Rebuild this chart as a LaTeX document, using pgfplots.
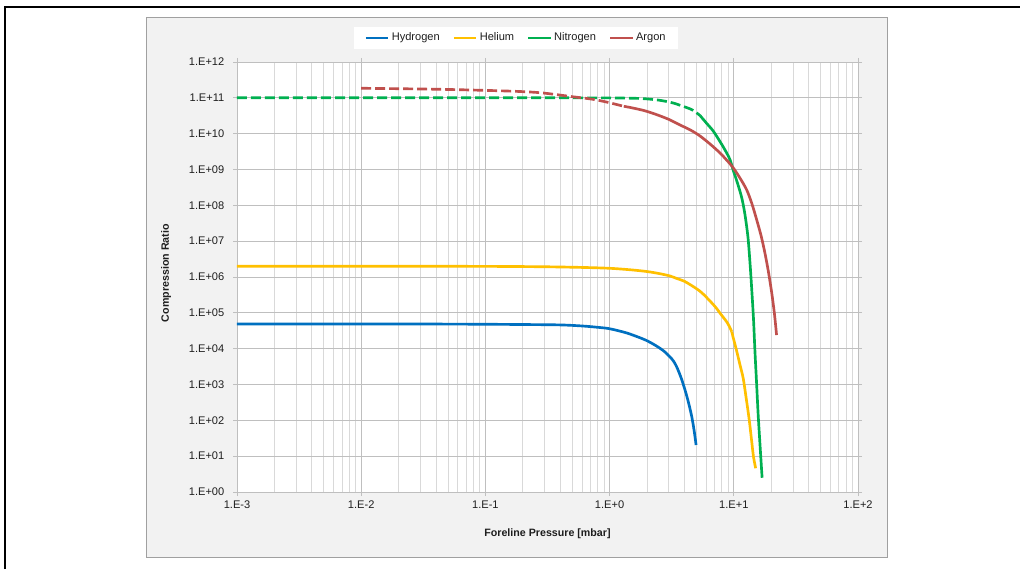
\documentclass[border=0pt]{standalone}
\usepackage{fontspec}
\setmainfont{Liberation Sans}
\usepackage{pgfplots}
\pgfplotsset{compat=1.18}
\definecolor{hyd}{RGB}{0,112,192}
\definecolor{hel}{RGB}{255,192,0}
\definecolor{nit}{RGB}{0,176,80}
\definecolor{arg}{RGB}{192,80,77}
\definecolor{bggray}{RGB}{242,242,242}
\definecolor{bdgray}{RGB}{160,160,160}
\definecolor{txt}{RGB}{30,30,30}
\begin{document}
\begin{tikzpicture}
\useasboundingbox (0,0) rectangle (765pt,426.75pt);
\fill[bggray] (109.5pt,9pt) rectangle (665.25pt,413.25pt);
\draw[bdgray, line width=0.75pt] (109.5pt,9pt) rectangle (665.25pt,413.25pt);
\draw[black, line width=1.6pt] (3.75pt,0pt) -- (3.75pt,421.5pt) -- (765pt,421.5pt);
\begin{axis}[
  at={(177.75pt,57.75pt)}, anchor=south west,
  width=465.75pt, height=322.5pt, scale only axis,
  xmode=log, ymode=log,
  xmin=1e-3, xmax=1e2, ymin=1, ymax=1e12,
  axis background/.style={fill=white},
  xtick={1e-3,1e-2,1e-1,1,10,100},
  xticklabels={1.E-3,1.E-2,1.E-1,1.E+0,1.E+1,1.E+2},
  minor xtick={2e-3,3e-3,4e-3,5e-3,6e-3,7e-3,8e-3,9e-3,
               2e-2,3e-2,4e-2,5e-2,6e-2,7e-2,8e-2,9e-2,
               0.2,0.3,0.4,0.5,0.6,0.7,0.8,0.9,
               2,3,4,5,6,7,8,9,20,30,40,50,60,70,80,90},
  ytick={1,1e1,1e2,1e3,1e4,1e5,1e6,1e7,1e8,1e9,1e10,1e11,1e12},
  yticklabels={1.E+00,1.E+01,1.E+02,1.E+03,1.E+04,1.E+05,1.E+06,1.E+07,1.E+08,1.E+09,1.E+10,1.E+11,1.E+12},
  minor y tick num=0,
  xmajorgrids, xminorgrids, ymajorgrids, yminorgrids=false,
  major grid style={color=black!25, line width=0.6pt},
  minor grid style={color=black!15, line width=0.6pt},
  axis line style={color=black!25, line width=0.6pt},
  tick align=outside,
  major tick length=3pt, minor tick length=0pt,
  every tick/.style={color=black!25, line width=0.6pt},
  tick label style={font=\fontsize{8.3}{10}\selectfont, text=txt},
  yticklabel style={xshift=-3pt},
  xlabel={Foreline Pressure [mbar]},
  ylabel={Compression Ratio},
  label style={font=\bfseries\fontsize{8}{10}\selectfont, text=txt},
  xlabel style={at={(axis description cs:0.5,-0.097)}, anchor=center},
  ylabel style={at={(axis description cs:-0.114,0.509)}, anchor=center, rotate=0},
  legend columns=4,
  legend style={at={(axis description cs:0.4493,1.0560)}, anchor=center,
    draw=none, fill=white, font=\fontsize{8.3}{10}\selectfont, text=txt,
    inner xsep=8pt, inner ysep=2.5pt,
    nodes={inner xsep=1.5pt},
    /tikz/every even column/.append style={column sep=8pt}},
  legend image code/.code={\draw[#1, line width=2pt] (0pt,0pt) -- (17pt,0pt);},
  every axis plot/.append style={line width=2pt, smooth, tension=0.5},
]
\addlegendimage{hyd}\addlegendentry{Hydrogen}
\addlegendimage{hel}\addlegendentry{Helium}
\addlegendimage{nit}\addlegendentry{Nitrogen}
\addlegendimage{arg}\addlegendentry{Argon}

% Hydrogen
\addplot[hyd, forget plot] coordinates {
(1e-3,4.9e4) (1e-2,4.9e4) (0.05,4.85e4) (0.1,4.8e4) (0.2,4.72e4) (0.4,4.6e4)
(0.6,4.3e4) (0.8,3.95e4) (1.0,3.6e4) (1.37,2.75e4) (1.87,1.85e4) (2.2,1.4e4)
(2.55,1.02e4) (2.8,8.0e3) (3.06,5.9e3) (3.27,4.5e3) (3.47,3.1e3) (3.75,1.6e3)
(4.05,700) (4.3,330) (4.58,130) (4.8,50) (4.97,20.5)};

% Helium
\addplot[hel, forget plot] coordinates {
(1e-3,2.0e6) (1e-2,2.0e6) (0.1,1.98e6) (0.3,1.93e6) (0.6,1.85e6) (1.0,1.75e6)
(1.5,1.58e6) (2.0,1.42e6) (2.5,1.25e6) (3.06,1.07e6) (3.5,9.0e5) (4.0,7.6e5)
(4.72,5.4e5) (5.3,4.1e5) (5.8,3.1e5) (6.3,2.3e5) (6.84,1.7e5) (7.3,1.3e5)
(7.8,9.5e4) (8.3,7.2e4) (8.77,5.6e4) (9.2,4.2e4) (9.62,3.0e4)};
\addplot[hel, forget plot] coordinates {
(9.62,3.0e4) (10.0,1.75e4) (10.5,9.2e3) (11.2,3.6e3) (11.9,1.5e3) (12.6,400)
(13.3,105) (13.9,28) (14.4,9.7) (15.0,4.6)};

% Nitrogen dashed
\addplot[nit, dash pattern=on 7.5pt off 3pt, forget plot] coordinates {
(1e-3,1e11) (0.1,1e11) (0.5,1e11) (1.0,9.95e10) (1.76,9.6e10) (2.5,8.6e10)
(3.24,7.2e10) (3.69,6.2e10) (4.2,5.3e10) (4.69,4.5e10) (5.35,3.2e10)};
% Nitrogen solid
\addplot[nit, forget plot] coordinates {
(5.35,3.2e10) (6.0,2.0e10) (6.81,1.2e10) (7.75,6.0e9) (8.5,3.5e9) (9.31,1.9e9)
(9.85,1.0e9) (10.7,4.2e8) (11.6,1.6e8) (12.3,5.5e7) (13.0,1.3e7) (13.5,2.5e6)
(13.9,5.4e5) (14.4,7e4) (14.8,8.5e3) (15.3,900) (15.7,150) (16.3,18) (16.9,2.5)};

% Argon dashed
\addplot[arg, dash pattern=on 7.5pt off 3pt, forget plot] coordinates {
(0.01,1.85e11) (0.043,1.73e11) (0.148,1.55e11) (0.275,1.39e11) (0.507,1.07e11)
(0.734,9.1e10) (0.948,7.6e10) (1.3,5.8e10)};
% Argon solid
\addplot[arg, forget plot] coordinates {
(1.3,5.8e10) (1.46,5.4e10) (1.9,4.4e10) (2.39,3.4e10) (3.0,2.5e10) (3.69,1.75e10)
(4.5,1.25e10) (5.35,8.6e9) (6.5,5.0e9) (7.74,2.9e9) (8.8,1.8e9) (9.85,1.14e9)
(11.2,5.8e8) (12.7,2.7e8) (14.0,1.1e8) (15.3,3.9e7) (16.6,1.4e7) (17.8,4.7e6)
(19.0,1.4e6) (20.2,3.6e5) (21.2,1.0e5) (22.1,2.4e4)};
\end{axis}
\end{tikzpicture}
\end{document}
